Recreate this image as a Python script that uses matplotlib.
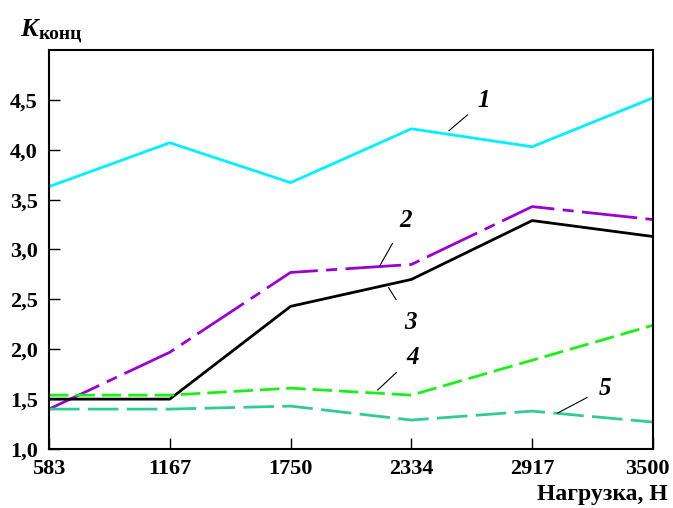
import numpy as np
import matplotlib.pyplot as plt
from matplotlib.transforms import ScaledTranslation

plt.rcParams['font.family'] = ['Liberation Serif', 'DejaVu Serif']

loads = [583, 1167, 1750, 2334, 2917, 3500]
k1 = [3.63, 4.07, 3.67, 4.21, 4.03, 4.52]
k2 = [1.40, 1.97, 2.77, 2.85, 3.43, 3.30]
k3 = [1.50, 1.50, 2.43, 2.70, 3.29, 3.13]
k4 = [1.54, 1.54, 1.61, 1.54, 1.89, 2.24]
k5 = [1.40, 1.40, 1.43, 1.29, 1.38, 1.27]
yticks = [1.0, 1.5, 2.0, 2.5, 3.0, 3.5, 4.0, 4.5]
ytick_labels = ['1,0', '1,5', '2,0', '2,5', '3,0', '3,5', '4,0', '4,5']

fig = plt.figure(figsize=(6.73, 5.08), dpi=100)
ax = fig.add_axes([49 / 673, 59 / 508, 604 / 673, 399 / 508])

x = np.arange(len(loads))
ax.plot(x, k1, color='#00f0ff', lw=2)
ax.plot(x, k2, color='#9a00d0', lw=2, dashes=(20, 3, 4, 3))
ax.plot(x, k3, color='black', lw=2)
ax.plot(x, k4, color='#18f018', lw=2, dashes=(7, 2.5))
ax.plot(x, k5, color='#30cc98', lw=2, dashes=(11, 3))

ax.set_xlim(0, len(loads) - 1)
ax.set_ylim(1.0, 5.0)
ax.set_xticks(x)
ax.set_xticklabels([str(v) for v in loads])
ax.set_yticks(yticks)
ax.set_yticklabels(ytick_labels)
ax.tick_params(direction='in', length=8, width=1, labelsize=16)
ax.tick_params(axis='x', pad=7)
ax.tick_params(axis='y', pad=8)
for lab in ax.get_xticklabels() + ax.get_yticklabels():
    lab.set_fontweight('bold')
last = ax.get_xticklabels()[-1]
last.set_transform(last.get_transform() + ScaledTranslation(-6 / 100, 0, fig.dpi_scale_trans))
for s in ax.spines.values():
    s.set_linewidth(1.5)

# curve labels with leader lines
def tag(text, tx, ty, px, py):
    ax.annotate(text, xy=(px, py), xytext=(tx, ty), fontsize=18, fontstyle='italic',
                fontweight='bold', ha='center', va='center',
                arrowprops=dict(arrowstyle='-', color='black', lw=0.8, shrinkA=7, shrinkB=0))

tag('1', 3.6, 4.49, 3.31, 4.19)
tag('2', 2.95, 3.29, 2.74, 2.84)
tag('3', 2.99, 2.27, 2.81, 2.62)
tag('4', 3.01, 1.92, 2.72, 1.59)
tag('5', 4.6, 1.61, 4.21, 1.36)

fig.text(20 / 673, 472 / 508, 'K', fontsize=19, fontstyle='italic', fontweight='bold')
fig.text(39 / 673, 470 / 508, 'конц', fontsize=14, fontweight='bold')
fig.text(668 / 673, 8 / 508, 'Нагрузка, Н', fontsize=17, fontweight='bold', ha='right')

fig.savefig('out.png', dpi=100)
